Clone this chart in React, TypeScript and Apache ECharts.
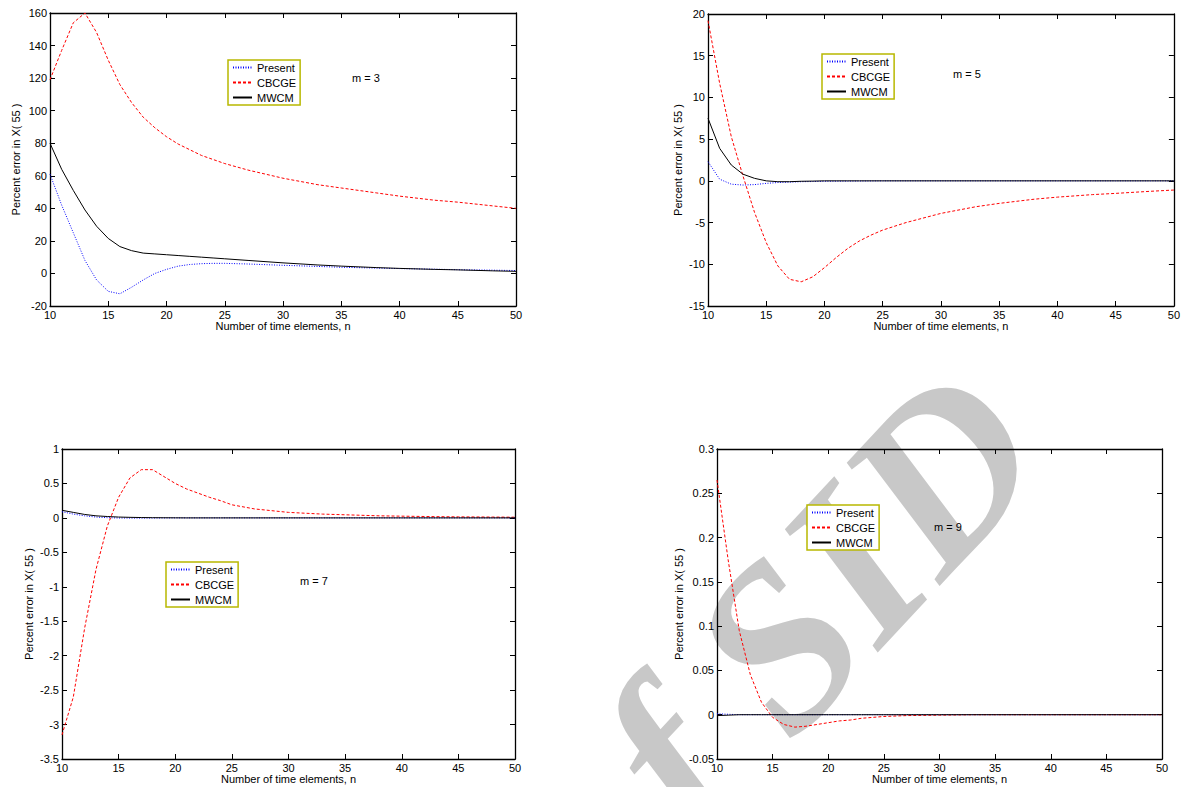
import React, { useEffect, useRef } from "react";
import * as echarts from "echarts";

// Number of time elements, n
const nValues = [10, 11, 12, 13, 14, 15, 16, 17, 18, 19, 20, 21, 22, 23, 24, 25, 27, 30, 33, 35, 38, 40, 43, 45, 48, 50];

// m = 3
const m3Present = [61, 42, 25, 8, -4, -11, -12.5, -8.5, -4, 0, 2.5, 4.5, 5.5, 6, 6.2, 6.2, 5.8, 5, 4.3, 3.8, 3.3, 3, 2.6, 2.3, 2, 1.8];
const m3CBCGE = [119, 137, 154, 160, 148, 131, 116, 105, 96, 89.5, 84, 79.5, 76, 72.5, 70, 67.5, 63.5, 58.5, 54.5, 52.5, 49.5, 47.5, 45, 43.8, 41.5, 40];
const m3MWCM = [80, 64, 51, 39, 29, 21.5, 16.5, 14, 12.5, 12, 11.5, 11, 10.5, 10, 9.5, 9, 8, 6.5, 5.2, 4.5, 3.6, 3.1, 2.5, 2.2, 1.6, 1.3];

// m = 5
const m5Present = [2.3, 0.2, -0.4, -0.5, -0.45, -0.3, -0.2, -0.15, -0.1, -0.08, -0.05, -0.04, -0.03, -0.02, -0.01, 0, 0, 0, 0, 0, 0, 0, 0, 0, 0, 0];
const m5CBCGE = [19.2, 11.7, 5.3, 0.6, -3.8, -7.4, -10.2, -11.8, -12.1, -11.5, -10.4, -9.2, -8.1, -7.2, -6.5, -5.9, -5, -3.9, -3.1, -2.7, -2.2, -1.95, -1.65, -1.5, -1.25, -1.1];
const m5MWCM = [7.5, 3.9, 1.9, 0.8, 0.3, 0, -0.1, -0.1, -0.05, -0.03, 0, 0, 0, 0, 0, 0, 0, 0, 0, 0, 0, 0, 0, 0, 0, 0];

// m = 7
const m7Present = [0.09, 0.055, 0.03, 0.012, 0.003, -0.002, -0.003, -0.003, -0.002, -0.001, 0, 0, 0, 0, 0, 0, 0, 0, 0, 0, 0, 0, 0, 0, 0, 0];
const m7CBCGE = [-3.15, -2.6, -1.6, -0.75, -0.12, 0.3, 0.58, 0.7, 0.7, 0.6, 0.5, 0.42, 0.36, 0.3, 0.25, 0.19, 0.13, 0.08, 0.055, 0.045, 0.03, 0.025, 0.018, 0.015, 0.012, 0.01];
const m7MWCM = [0.11, 0.08, 0.05, 0.03, 0.02, 0.012, 0.008, 0.005, 0.003, 0.002, 0.001, 0, 0, 0, 0, 0, 0, 0, 0, 0, 0, 0, 0, 0, 0, 0];

// m = 9
const m9Present = [0.001, 0.0005, 0, 0, 0, 0, 0, 0, 0, 0, 0, 0, 0, 0, 0, 0, 0, 0, 0, 0, 0, 0, 0, 0, 0, 0];
const m9CBCGE = [0.265, 0.175, 0.095, 0.045, 0.014, -0.003, -0.011, -0.014, -0.013, -0.011, -0.009, -0.007, -0.006, -0.004, -0.003, -0.002, -0.001, -0.0005, 0, 0, 0, 0, 0, 0, 0, 0];
const m9MWCM = [-0.001, -0.0005, 0, 0, 0, 0, 0, 0, 0, 0, 0, 0, 0, 0, 0, 0, 0, 0, 0, 0, 0, 0, 0, 0, 0, 0];

const seriesNames = ["Present", "CBCGE", "MWCM"];
const panelLabels = ["m = 3", "m = 5", "m = 7", "m = 9"];
const yRanges = [
  [-20, 160, 20],
  [-15, 20, 5],
  [-3.5, 1, 0.5],
  [-0.05, 0.3, 0.05],
];
const xRange = [10, 50, 5];
const xTitle = "Number of time elements, n";
const yTitle = "Percent error in X( 55 )";
const watermarkText = "of SID";

const FONT = "'Liberation Sans', Arial, Helvetica, sans-serif";

export default function App() {
  const ref = useRef<HTMLDivElement>(null);

  useEffect(() => {
    if (!ref.current) return;
    const chart = echarts.init(ref.current, null, { renderer: "svg" });

    const panels = [
      [m3Present, m3CBCGE, m3MWCM],
      [m5Present, m5CBCGE, m5MWCM],
      [m7Present, m7CBCGE, m7MWCM],
      [m9Present, m9CBCGE, m9MWCM],
    ];

    const grids = [
      { left: 50, top: 13, width: 466, height: 293 },
      { left: 708, top: 14, width: 467, height: 292 },
      { left: 62, top: 449, width: 453, height: 310 },
      { left: 717, top: 449, width: 445, height: 310 },
    ];
    const yNameGaps = [29, 25, 28, 33];
    const legendPos = [
      { left: 228, top: 60 },
      { left: 822, top: 54 },
      { left: 166, top: 562 },
      { left: 807, top: 505 },
    ];
    const labelPos = [
      { x: 366, y: 78 },
      { x: 967, y: 74 },
      { x: 314, y: 581 },
      { x: 948, y: 527 },
    ];

    const axisLine = { show: true, onZero: false, lineStyle: { color: "#000", width: 1.3 } };
    const tick = { show: true, inside: true, length: 5, lineStyle: { color: "#000" } };
    const labelStyle = { color: "#000", fontSize: 11, fontFamily: FONT };

    const xAxis: any[] = [];
    const yAxis: any[] = [];
    grids.forEach((_, i) => {
      const [ymin, ymax, yint] = yRanges[i];
      xAxis.push({
        type: "value",
        gridIndex: i,
        min: xRange[0],
        max: xRange[1],
        interval: xRange[2],
        position: "bottom",
        axisLine,
        axisTick: tick,
        splitLine: { show: false },
        axisLabel: { ...labelStyle, margin: 3 },
        name: xTitle,
        nameLocation: "middle",
        nameGap: 14,
        nameTextStyle: { color: "#000", fontSize: 11, fontFamily: FONT },
      });
      xAxis.push({
        type: "value",
        gridIndex: i,
        min: xRange[0],
        max: xRange[1],
        interval: xRange[2],
        position: "top",
        axisLine,
        axisTick: tick,
        splitLine: { show: false },
        axisLabel: { show: false },
      });
      yAxis.push({
        type: "value",
        gridIndex: i,
        min: ymin,
        max: ymax,
        interval: yint,
        position: "left",
        axisLine,
        axisTick: tick,
        splitLine: { show: false },
        axisLabel: { ...labelStyle, margin: 3 },
        name: yTitle,
        nameLocation: "middle",
        nameGap: yNameGaps[i],
        nameRotate: 90,
        nameTextStyle: { color: "#000", fontSize: 11, fontFamily: FONT },
      });
      yAxis.push({
        type: "value",
        gridIndex: i,
        min: ymin,
        max: ymax,
        interval: yint,
        position: "right",
        axisLine,
        axisTick: tick,
        splitLine: { show: false },
        axisLabel: { show: false },
      });
    });

    const styles = [
      { color: "#0000ff", type: [1, 1.5] },
      { color: "#ff0000", type: [3, 2] },
      { color: "#000000", type: "solid" },
    ];

    const series: any[] = [];
    panels.forEach((p, i) => {
      p.forEach((vals, k) => {
        series.push({
          type: "line",
          name: seriesNames[k],
          xAxisIndex: 2 * i,
          yAxisIndex: 2 * i,
          data: nValues.map((n, j) => [n, vals[j]]),
          symbol: "none",
          showSymbol: false,
          smooth: false,
          lineStyle: { color: styles[k].color, width: 1, type: styles[k].type },
          itemStyle: { color: styles[k].color },
          z: 3 + k,
        });
      });
    });

    const legend = legendPos.map((pos) => ({
      ...pos,
      orient: "vertical",
      data: seriesNames,
      itemWidth: 19,
      itemHeight: 11,
      itemGap: 4,
      padding: [2, 4, 2, 4],
      borderColor: "#b8b800",
      borderWidth: 1.5,
      backgroundColor: "#ffffff",
      itemStyle: { opacity: 0 },
      textStyle: { color: "#000", fontSize: 11, fontFamily: FONT },
      selectedMode: false,
    }));

    const graphic: any[] = [
      {
        type: "text",
        x: 780,
        y: 642,
        rotation: 0.82,
        z: -10,
        silent: true,
        style: {
          text: watermarkText,
          font: "italic bold 232px 'Liberation Serif', 'Times New Roman', serif",
          fill: "#c8c8c8",
          align: "center",
          verticalAlign: "middle",
        },
      },
      ...labelPos.map((p, i) => ({
        type: "text",
        x: p.x,
        y: p.y,
        z: 10,
        style: {
          text: panelLabels[i],
          font: `11px ${FONT}`,
          fill: "#000",
          align: "center",
          verticalAlign: "middle",
        },
      })),
    ];

    chart.setOption({
      animation: false,
      backgroundColor: "#ffffff",
      grid: grids.map((g) => ({ ...g, containLabel: false })),
      xAxis,
      yAxis,
      legend,
      series,
      graphic,
    });

    return () => chart.dispose();
  }, []);

  return (
    <div
      ref={ref}
      style={{ position: "absolute", left: 0, top: 0, width: 1183, height: 787 }}
    />
  );
}
